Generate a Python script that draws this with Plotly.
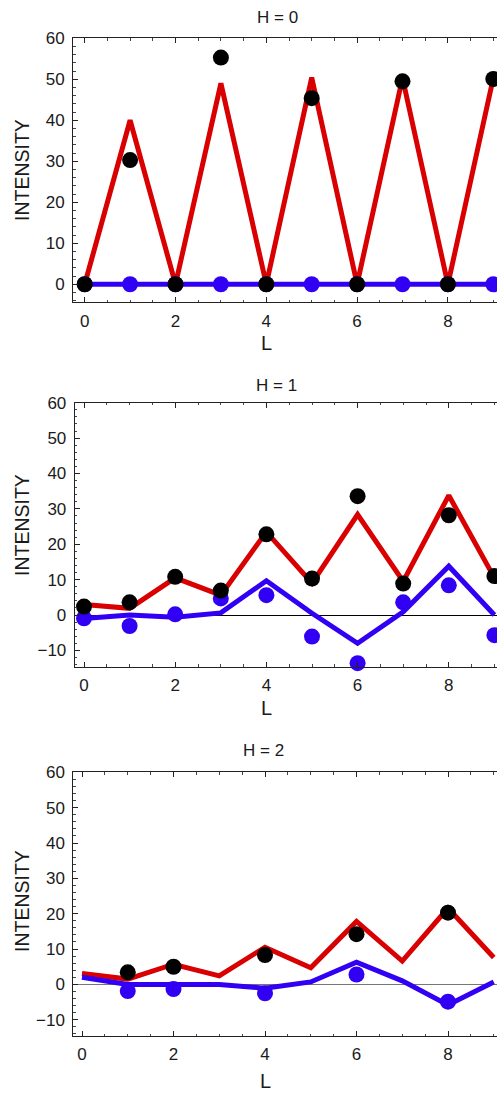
import plotly.graph_objects as go

L = [0, 1, 2, 3, 4, 5, 6, 7, 8, 9]

# H = 0
h0_calc_total = [0, 40.0, 0, 49.0, 0, 50.4, 0, 50.3, 0, 50.3]
h0_calc_diff = [0, 0, 0, 0, 0, 0, 0, 0, 0, 0]
h0_obs_total = [0, 30.3, 0, 55.3, 0, 45.4, 0, 49.5, 0, 50.1]
h0_obs_diff = [0, 0, 0, 0, 0, 0, 0, 0, 0, 0]

# H = 1
h1_calc_total = [3.0, 1.9, 10.5, 5.6, 23.5, 9.0, 28.4, 9.5, 33.8, 10.5]
h1_calc_diff = [-1.0, 0.0, -0.6, 0.6, 9.7, 0.5, -8.0, 0.9, 13.8, 0.0]
h1_obs_total = [2.4, 3.6, 10.8, 6.9, 22.8, 10.3, 33.6, 8.9, 28.2, 11.0]
h1_obs_diff = [-0.9, -3.1, 0.2, 4.7, 5.6, -6.1, -13.6, 3.6, 8.4, -5.7]

# H = 2
h2_calc_total = [3.1, 1.5, 5.7, 2.4, 10.5, 4.7, 17.8, 6.6, 21.6, 7.6]
h2_calc_diff = [2.0, 0.0, 0.0, 0.0, -1.1, 0.7, 6.3, 1.0, -5.8, 0.7]
h2_obs_total = [None, 3.4, 5.0, None, 8.3, None, 14.2, None, 20.3, None]
h2_obs_diff = [None, -1.9, -1.3, None, -2.5, None, 2.8, None, -4.9, None]

titles = ["H = 0", "H = 1", "H = 2"]
y_ticks = [-10, 0, 10, 20, 30, 40, 50, 60]
x_ticks = [0, 2, 4, 6, 8]

RED = "#D80000"
BLUE = "#3100F4"
W, Hh = 497, 1093
FONT = "Liberation Sans, Arial, sans-serif"

panels = [
    dict(calc_t=h0_calc_total, calc_d=h0_calc_diff, obs_t=h0_obs_total, obs_d=h0_obs_diff,
         top=38.3, bottom=302.3, left=73.0, x0px=84.7, unit=45.4, yr=[-4.4, 60],
         title_y=17, title_x=277, ylab_y=170, xlab_y=343, zc="#000000"),
    dict(calc_t=h1_calc_total, calc_d=h1_calc_diff, obs_t=h1_obs_total, obs_d=h1_obs_diff,
         top=402.7, bottom=666.7, left=74.7, x0px=84.0, unit=45.6, yr=[-14.6, 60],
         title_y=385, title_x=276, ylab_y=525, xlab_y=708, zc="#000000"),
    dict(calc_t=h2_calc_total, calc_d=h2_calc_diff, obs_t=h2_obs_total, obs_d=h2_obs_diff,
         top=772.3, bottom=1036.0, left=73.3, x0px=82.0, unit=45.75, yr=[-14.6, 60],
         title_y=750, title_x=263, ylab_y=901, xlab_y=1081, zc="#777777"),
]

fig = go.Figure()
annotations = []
layout = dict(
    template="none",
    width=W, height=Hh, margin=dict(l=0, r=0, t=0, b=0, pad=0),
    paper_bgcolor="white", plot_bgcolor="white", showlegend=False,
    font=dict(family=FONT, size=17, color="#1a1a1a"),
)

for i, p in enumerate(panels):
    n = "" if i == 0 else str(i + 1)
    xa, ya = "x" + n, "y" + n
    for ys, col in [(p["calc_t"], RED), (p["calc_d"], BLUE)]:
        fig.add_trace(go.Scatter(x=L, y=ys, mode="lines", xaxis=xa, yaxis=ya,
                                 line=dict(color=col, width=5), cliponaxis=True,
                                 hoverinfo="skip"))
    fig.add_trace(go.Scatter(x=L, y=p["obs_d"], mode="markers", xaxis=xa, yaxis=ya,
                             marker=dict(color=BLUE, size=16, line=dict(width=0)),
                             cliponaxis=False, hoverinfo="skip"))
    fig.add_trace(go.Scatter(x=L, y=p["obs_t"], mode="markers", xaxis=xa, yaxis=ya,
                             marker=dict(color="black", size=16, line=dict(width=0)),
                             cliponaxis=False, hoverinfo="skip"))
    xr = [-(p["x0px"] - p["left"]) / p["unit"], (W - p["x0px"]) / p["unit"]]
    layout["xaxis" + n] = dict(
        domain=[p["left"] / W, 1.0], range=xr, anchor=ya, automargin=False,
        tickvals=x_ticks, ticks="inside", ticklen=5, tickwidth=1, tickcolor="#222",
        minor=dict(dtick=0.5, tick0=0, ticks="inside", ticklen=2.5, tickcolor="#444"),
        showline=True, linecolor="#222", linewidth=1, mirror="ticks",
        showgrid=False, zeroline=False, ticklabelstandoff=3,
        tickfont=dict(size=17, family=FONT, color="#1a1a1a"),
    )
    layout["yaxis" + n] = dict(
        domain=[1 - p["bottom"] / Hh, 1 - p["top"] / Hh], range=p["yr"], anchor=xa,
        automargin=False,
        tickvals=y_ticks, ticks="inside", ticklen=5, tickwidth=1, tickcolor="#222",
        minor=dict(dtick=2, tick0=0, ticks="inside", ticklen=2.5, tickcolor="#444"),
        showline=True, linecolor="#222", linewidth=1, mirror=False,
        showgrid=False, zeroline=True, zerolinecolor=p["zc"], zerolinewidth=1,
        ticklabelstandoff=4,
        tickfont=dict(size=17, family=FONT, color="#1a1a1a"),
    )
    annotations.append(dict(text=titles[i], x=p["title_x"] / W, y=1 - p["title_y"] / Hh,
                            xref="paper", yref="paper", showarrow=False,
                            xanchor="center", yanchor="middle",
                            font=dict(size=17, family=FONT, color="#1a1a1a")))
    annotations.append(dict(text="L", x=(p["x0px"] + 4 * p["unit"]) / W, y=1 - p["xlab_y"] / Hh,
                            xref="paper", yref="paper", showarrow=False,
                            xanchor="center", yanchor="middle",
                            font=dict(size=20, family=FONT, color="#1a1a1a")))
    annotations.append(dict(text="INTENSITY", x=22 / W, y=1 - p["ylab_y"] / Hh,
                            xref="paper", yref="paper", showarrow=False, textangle=-90,
                            xanchor="center", yanchor="middle",
                            font=dict(size=19.5, family=FONT, color="#1a1a1a")))

layout["annotations"] = annotations
fig.update_layout(**layout)
fig.write_html(
    "out.html",
    config={"displayModeBar": False, "responsive": False},
    post_script="document.body.style.margin='0';document.body.style.overflow='hidden';",
)
